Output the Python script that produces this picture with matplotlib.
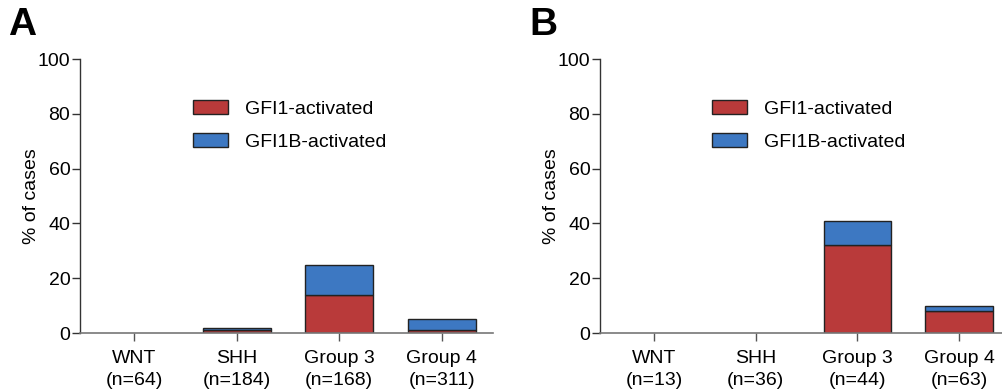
import matplotlib.pyplot as plt
import numpy as np

plt.rcParams['font.family'] = ['Liberation Sans', 'DejaVu Sans']

groups = ["WNT", "SHH", "Group 3", "Group 4"]
n_a = [64, 184, 168, 311]
n_b = [13, 36, 44, 63]
gfi1_a = [0, 1, 14, 1]
gfi1b_a = [0, 0.8, 11, 4]
gfi1_b = [0, 0, 32, 8]
gfi1b_b = [0, 0, 9, 2]

red = "#b93a3a"
blue = "#3d78c2"
edge = "#222222"

fig = plt.figure(figsize=(10.02, 3.91), dpi=100)
ax_a = fig.add_axes([80 / 1002, 1 - 333 / 391, 413 / 1002, 274 / 391])
ax_b = fig.add_axes([600 / 1002, 1 - 333 / 391, 402 / 1002, 274 / 391])


def draw_panel(ax, n, v1, v2, letter, xmax, lx):
    x = np.arange(len(groups))
    v1 = np.array(v1, dtype=float)
    v2 = np.array(v2, dtype=float)
    lw1 = np.where(v1 > 0, 1.0, 0.0)
    lw2 = np.where(v2 > 0, 1.0, 0.0)
    ax.bar(x, v1, width=0.665, color=red, edgecolor=edge, linewidth=lw1, label="GFI1-activated")
    ax.bar(x, v2, width=0.665, bottom=v1, color=blue, edgecolor=edge, linewidth=lw2, label="GFI1B-activated")
    ax.set_xlim(-0.53, xmax)
    ax.set_ylim(0, 100)
    ax.set_yticks([0, 20, 40, 60, 80, 100])
    ax.set_xticks(x)
    ax.set_xticklabels(["%s\n(n=%d)" % (g, k) for g, k in zip(groups, n)], fontsize=14, linespacing=1.4)
    ax.tick_params(axis='y', labelsize=14, length=6, width=1, color="#333333", pad=1)
    ax.tick_params(axis='x', length=6, width=1, color="#555555", pad=6)
    for s in ["top", "right"]:
        ax.spines[s].set_visible(False)
    ax.spines["left"].set_color("#333333")
    ax.spines["bottom"].set_color("#777777")
    ax.spines["left"].set_linewidth(1)
    ax.spines["bottom"].set_linewidth(1.2)
    ax.set_ylabel("% of cases", fontsize=14, labelpad=-2)
    leg = ax.legend(loc="upper left", bbox_to_anchor=(lx, 0.879), frameon=False, fontsize=14,
                    handlelength=1.8, handleheight=0.72, labelspacing=0.8, handletextpad=0.9,
                    borderaxespad=0)
    for h in leg.legend_handles:
        h.set_linewidth(1.0)
    ax.text(-0.175, 1.125, letter, transform=ax.transAxes, fontsize=28, fontweight="bold",
            ha="left", va="center")


draw_panel(ax_a, n_a, gfi1_a, gfi1b_a, "A", 3.5, (185 - 80) / 413)
draw_panel(ax_b, n_b, gfi1_b, gfi1b_b, "B", 3.42, (704 - 600) / 402)

fig.savefig("out.png", dpi=100)
